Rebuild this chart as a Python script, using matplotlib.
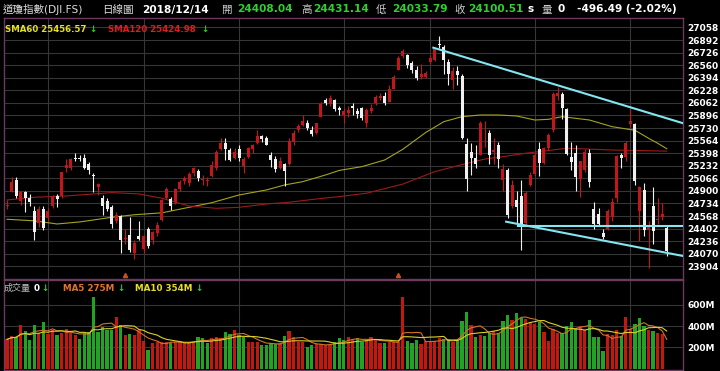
import numpy as np
import pandas as pd
import matplotlib
matplotlib.use('Agg')
import matplotlib.pyplot as plt

plt.rcParams['font.family'] = ['DejaVu Sans', 'Noto Sans CJK TC']

# trading days 2018/05/18 .. 2018/12/14
holidays = ['2018-05-28', '2018-07-04', '2018-09-03', '2018-11-22', '2018-12-05']
dates = [d for d in pd.bdate_range('2018-05-18', '2018-12-14') if d.strftime('%Y-%m-%d') not in holidays]

opens = [24701, 24890, 25050, 24760, 24880, 24800, 24640, 24470, 24660, 24540,
         24700, 24830, 24830, 25200, 25200, 25330, 25340, 25330, 25250, 25110,
         24950, 24810, 24760, 24690, 24500, 24570, 24260, 24320, 24080, 24300,
         24130, 24400, 24250, 24350, 24520, 24800, 24790, 24750, 24930, 25030,
         25000, 25130, 25160, 25040, 25030, 25100, 25200, 25450, 25530, 25440,
         25340, 25450, 25230, 25350, 25450, 25530, 25620, 25600, 25380, 25320,
         25200, 25250, 25250, 25550, 25700, 25770, 25800, 25700, 25670, 25880,
         26100, 26050, 26100, 26000, 25900, 25930, 26020, 25960, 25990, 25800,
         25960, 26060, 26130, 26150, 26080, 26250, 26500, 26680, 26700, 26590,
         26500, 26400, 26410, 26598, 26630, 26833, 26800, 26600, 26370, 26480,
         26422, 25525, 25420, 25340, 25380, 25700, 25660, 25420, 25500, 25040,
         25180, 24700, 24780, 24830, 24470, 24980, 25120, 25450, 25270, 25460,
         25700, 26150, 26180, 25980, 25350, 25400, 25060, 25170, 25400, 24660,
         24590, 24350, 24400, 24560, 24800, 25370, 25350, 25780, 25779, 24630,
         24918, 24380, 24700, 24510, 24560, 24408.04]
highs = [24780, 25086, 25086, 24900, 24900, 24860, 24700, 24700, 24700, 24680,
         24840, 24860, 25150, 25326, 25330, 25400, 25380, 25390, 25280, 25130,
         25000, 24840, 24800, 24720, 24620, 24580, 24400, 24560, 24250, 24500,
         24320, 24420, 24370, 24490, 24790, 24950, 24820, 24940, 25050, 25100,
         25150, 25220, 25190, 25110, 25080, 25290, 25440, 25600, 25600, 25460,
         25470, 25500, 25350, 25480, 25520, 25700, 25640, 25630, 25420, 25360,
         25350, 25270, 25600, 25700, 25780, 25900, 25830, 25760, 25800, 26070,
         26130, 26160, 26110, 26020, 25990, 26020, 26060, 26000, 26010, 25990,
         26050, 26160, 26190, 26200, 26300, 26430, 26680, 26770, 26710, 26610,
         26550, 26570, 26480, 26700, 26800, 26951, 26830, 26640, 26530, 26550,
         26440, 25600, 25527, 25500, 25820, 25820, 25700, 25600, 25550, 25260,
         25200, 25050, 24900, 25040, 24900, 25150, 25400, 25550, 25480, 25670,
         26200, 26277, 26200, 26000, 25550, 25500, 25300, 25450, 25450, 24750,
         24680, 24400, 24660, 24800, 25380, 25400, 25560, 25980, 25800, 24960,
         25000, 24500, 24950, 24800, 24740, 24431.14]
lows = [24660, 24880, 24800, 24710, 24626, 24700, 24252, 24420, 24390, 24500,
        24680, 24690, 24810, 25150, 25170, 25300, 25300, 25190, 25120, 24890,
        24840, 24580, 24640, 24410, 24470, 24084, 24200, 24090, 24000, 24250,
        24080, 24150, 24200, 24300, 24500, 24790, 24650, 24730, 24900, 24990,
        24960, 25100, 25030, 24980, 24960, 25080, 25180, 25440, 25310, 25290,
        25320, 25300, 25135, 25330, 25400, 25520, 25540, 25500, 25220, 25150,
        25190, 24965, 25240, 25500, 25680, 25760, 25700, 25620, 25650, 25870,
        26030, 26020, 25950, 25900, 25800, 25880, 25900, 25860, 25840, 25750,
        25930, 26040, 26100, 26040, 26070, 26240, 26490, 26660, 26520, 26460,
        26360, 26380, 26390, 26580, 26610, 26790, 26450, 26300, 26250, 26300,
        25590, 24899, 25107, 25200, 25370, 25480, 25250, 25250, 25200, 24897,
        24547, 24680, 24470, 24122, 24430, 24960, 25100, 25090, 25250, 25440,
        25680, 26100, 25850, 25370, 25180, 24900, 24817, 25150, 24950, 24400,
        24450, 24270, 24380, 24500, 24750, 25200, 25300, 25750, 24980, 24242,
        24300, 23881, 24200, 24460, 24516, 24033.79]
closes = [24715, 25013, 24834, 24886, 24811, 24753, 24361, 24667, 24415, 24635,
          24813, 24799, 25146, 25241, 25316, 25322, 25320, 25201, 25175, 25090,
          24987, 24700, 24657, 24461, 24580, 24252, 24283, 24117, 24216, 24271,
          24307, 24174, 24356, 24456, 24776, 24919, 24700, 24924, 25019, 25064,
          25119, 25199, 25064, 25058, 25044, 25241, 25414, 25527, 25451, 25306,
          25415, 25333, 25326, 25462, 25502, 25628, 25583, 25509, 25313, 25187,
          25299, 25162, 25558, 25669, 25758, 25822, 25733, 25656, 25790, 26049,
          26064, 26124, 25986, 25964, 25952, 25974, 25995, 25916, 25857, 25971,
          25998, 26145, 26154, 26062, 26246, 26405, 26656, 26743, 26562, 26492,
          26385, 26439, 26458, 26651, 26773, 26828, 26627, 26447, 26486, 26430,
          25598, 25052, 25340, 25250, 25798, 25706, 25379, 25444, 25317, 25191,
          24583, 24984, 24688, 24442, 24874, 25115, 25380, 25270, 25461, 25635,
          26180, 26191, 25989, 25387, 25286, 25080, 25289, 25413, 25017, 24465,
          24464, 24285, 24640, 24748, 25366, 25338, 25538, 25826, 25027, 24947,
          24388, 24423, 24370, 24527, 24597, 24100.51]

# volume in millions (last day reported as 0)
volumes = [275, 307, 301, 410, 357, 269, 410, 332, 442, 326,
           363, 316, 332, 370, 338, 316, 275, 338, 348, 672,
           348, 395, 363, 363, 489, 410, 316, 326, 316, 363,
           262, 175, 244, 253, 253, 253, 238, 253, 253, 244,
           253, 253, 294, 285, 238, 285, 294, 285, 348, 326,
           363, 316, 301, 253, 253, 253, 222, 222, 238, 232,
           238, 307, 357, 294, 253, 253, 206, 222, 232, 232,
           222, 222, 253, 285, 269, 294, 275, 285, 253, 269,
           294, 269, 238, 238, 253, 253, 253, 677, 262, 244,
           269, 232, 262, 262, 262, 285, 275, 280, 255, 270,
           451, 536, 410, 301, 316, 307, 332, 357, 332, 451,
           505, 457, 520, 480, 470, 440, 420, 440, 348, 262,
           370, 332, 332, 401, 442, 380, 400, 360, 458, 301,
           300, 168, 330, 320, 360, 310, 490, 375, 420, 480,
           400, 360, 350, 340, 325, 0]

# moving averages
sma60_idx = [0, 6, 11, 16, 23, 28, 34, 40, 45, 51, 57, 61, 65, 70, 73, 78, 83, 87,
             92, 96, 100, 104, 108, 112, 116, 119, 122, 128, 133, 138, 141, 143, 145]
sma60_val = [24525, 24505, 24463, 24490, 24551, 24585, 24610, 24683, 24744, 24846,
             24912, 24978, 25022, 25110, 25170, 25220, 25308, 25450, 25670, 25814,
             25880, 25902, 25902, 25889, 25836, 25845, 25880, 25836, 25748, 25700,
             25595, 25529, 25457]
sma120_idx = [0, 6, 13, 23, 29, 34, 40, 46, 51, 57, 62, 69, 73, 79, 87, 94, 101,
              105, 110, 114, 123, 133, 145]
sma120_val = [24780, 24816, 24833, 24877, 24860, 24803, 24701, 24670, 24683, 24727,
              24750, 24800, 24824, 24869, 24990, 25154, 25262, 25320, 25361, 25397,
              25463, 25440, 25425]

# hand-drawn trend lines (index, value)
trend_upper = ([93.7, 148.6], [26791, 25793])
trend_lower = ([109.7, 148.6], [24493, 24040])
trend_flat = ([112.3, 148.6], [24438, 24438])

event_idx = [26, 86]

ticks_main = [27058 - 166 * k for k in range(20)]
ticks_vol = [600, 400, 200]

RED = '#c3161a'
WHITE = '#f0f0f0'
GREEN = '#2ed12e'
GRID = '#363636'
FRAME = '#6b3a5e'

W, H = 720, 371
fig = plt.figure(figsize=(W / 100, H / 100), dpi=100, facecolor='black')


def px_box(x0, y0, x1, y1):
    return [x0 / W, 1 - y1 / H, (x1 - x0) / W, (y1 - y0) / H]


ax = fig.add_axes(px_box(4, 18, 683, 278.5), facecolor='black')
axv = fig.add_axes(px_box(4, 279.5, 683, 369.5), facecolor='black')

n = len(closes)
x = np.arange(n)
o = np.array(opens)
c = np.array(closes)
up = c >= o
month_starts = [i for i in range(1, n) if dates[i].month != dates[i - 1].month]

for a in (ax, axv):
    a.set_xlim(-0.66, 148.57)
    for s in a.spines.values():
        s.set_color(FRAME)
        s.set_linewidth(1)
    a.tick_params(axis='x', bottom=False, labelbottom=False)
    a.tick_params(axis='y', left=False, labelleft=False, right=True, labelright=True,
                  length=0, pad=3, colors='white', labelsize=6.5)
    for m in month_starts:
        a.axvline(m, color=GRID, lw=0.8, zorder=0)

# price panel
ax.set_ylim(23743, 27183)
ax.set_yticks(ticks_main)
ax.set_yticklabels([str(t) for t in ticks_main], fontweight='bold')
for t in ticks_main:
    ax.axhline(t, color=GRID, lw=0.8, zorder=0)

colors = np.where(up, RED, WHITE)
ax.vlines(x, lows, highs, colors=colors, lw=0.8, zorder=2)
body = np.maximum(np.abs(c - o), 10)
ax.bar(x, body, bottom=np.minimum(o, c), width=0.66, color=colors, lw=0, zorder=3)

ax.plot(sma60_idx, sma60_val, color='#a4a41e', lw=0.8, zorder=1)
ax.plot(sma120_idx, sma120_val, color='#9c1a1a', lw=0.8, zorder=1)

for tx, ty in (trend_upper, trend_lower, trend_flat):
    ax.plot(tx, ty, color='#84e6f0', lw=1.5, zorder=4)

ax.plot(event_idx, [23790] * len(event_idx), linestyle='none', marker='^',
        markersize=3, color='#c8501e', zorder=4)

lab = dict(transform=ax.transAxes, fontsize=6.2, fontweight='bold', va='center')
ax.text(0.002, 0.955, 'SMA60 25456.57', color='#e6e01e', **lab)
ax.text(0.126, 0.955, '↓', color=GREEN, **lab)
ax.text(0.153, 0.955, 'SMA120 25424.98', color='#e01c1c', **lab)
ax.text(0.290, 0.955, '↓', color=GREEN, **lab)

# volume panel
vol = np.array(volumes, dtype=float)
prev = np.r_[c[0], c[:-1]]
vcol = np.where(c >= prev, '#c4180f', '#22a324')
axv.set_ylim(-9, 840)
axv.set_yticks(ticks_vol)
axv.set_yticklabels([f'{t}M' for t in ticks_vol], fontweight='bold')
for t in ticks_vol:
    axv.axhline(t, color=GRID, lw=0.8, zorder=0)
axv.bar(x, vol, width=0.72, color=vcol, lw=0, zorder=2)
ma5 = pd.Series(vol).rolling(5, min_periods=1).mean()
ma10 = pd.Series(vol).rolling(10, min_periods=1).mean()
axv.plot(x, ma5, color='#d07428', lw=0.8, zorder=3)
axv.plot(x, ma10, color='#d8d02a', lw=0.8, zorder=3)

vlab = dict(transform=axv.transAxes, fontsize=6.3, fontweight='bold', va='center')
axv.text(0.0, 0.9, '成交量', transform=axv.transAxes, color='#bbbbbb', fontsize=6.5, va='center')
axv.text(0.043, 0.9, '0', color='white', **vlab)
axv.text(0.055, 0.9, '↓', color=GREEN, **vlab)
axv.text(0.087, 0.9, f'MA5 {ma5.iloc[-1]:.0f}M', color='#e2742a', **vlab)
axv.text(0.167, 0.9, '↓', color=GREEN, **vlab)
axv.text(0.193, 0.9, f'MA10 {ma10.iloc[-1]:.0f}M', color='#e6e020', **vlab)
axv.text(0.282, 0.9, '↓', color=GREEN, **vlab)

# header line
chg = closes[-1] - closes[-2]
pct = chg / closes[-2] * 100
header = [
    (3, '道瓊指數(DJI.FS)', '#dddddd', 'normal'),
    (102, '日線圖', '#dddddd', 'normal'),
    (142, dates[-1].strftime('%Y/%m/%d'), 'white', 'bold'),
    (221, '開', '#cccccc', 'normal'),
    (237, f'{opens[-1]:.2f}', GREEN, 'bold'),
    (301, '高', '#cccccc', 'normal'),
    (313, f'{highs[-1]:.2f}', GREEN, 'bold'),
    (376, '低', '#cccccc', 'normal'),
    (392, f'{lows[-1]:.2f}', GREEN, 'bold'),
    (454, '收', '#cccccc', 'normal'),
    (468, f'{closes[-1]:.2f}', GREEN, 'bold'),
    (527, 's', 'white', 'bold'),
    (542, '量', '#cccccc', 'normal'),
    (557, f'{volumes[-1]}', 'white', 'bold'),
    (577, f'{chg:.2f} ({pct:.2f}%)', 'white', 'bold'),
]
for hx, txt, col, fw in header:
    fig.text(hx / W, 1 - 9.5 / H, txt, color=col, fontsize=7.6, fontweight=fw, va='center')

fig.savefig('out.png', dpi=100, facecolor='black')
